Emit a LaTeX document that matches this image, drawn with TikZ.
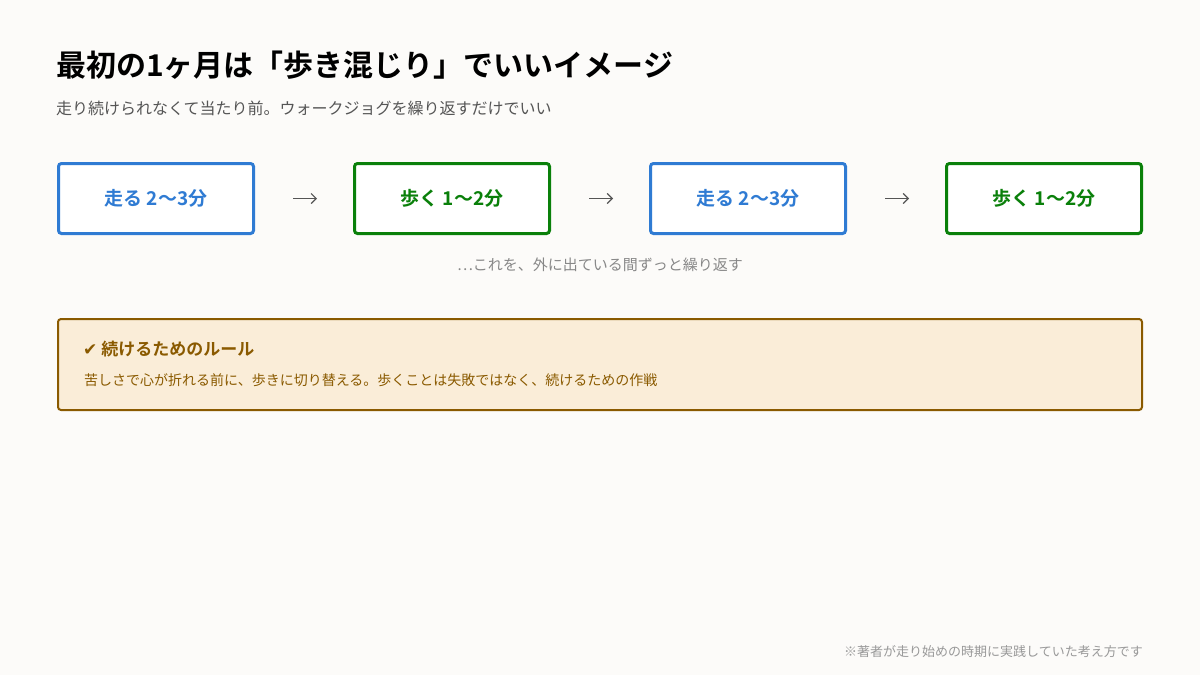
\documentclass[tikz,border=0pt]{standalone}
\usepackage{fontspec}
\setmainfont{Noto Sans CJK JP}[BoldFont={Noto Sans CJK JP Bold}]
\newfontfamily\symfont{DejaVu Sans}
\usetikzlibrary{arrows.meta}
\definecolor{bgc}{HTML}{FCFBF9}
\definecolor{runblue}{HTML}{2F7BD3}
\definecolor{walkgreen}{HTML}{0A800A}
\definecolor{rulebrown}{HTML}{8A5A00}
\definecolor{rulefill}{HTML}{FAEDD8}
\definecolor{subgray}{HTML}{555555}
\definecolor{capgray}{HTML}{888888}
\definecolor{footgray}{HTML}{999999}
\tikzset{
  stepbox/.style={draw, line width=3pt, rounded corners=3pt, fill=white,
    minimum width=195pt, minimum height=70pt, inner sep=0pt,
    font=\fontsize{19pt}{21pt}\selectfont\bfseries},
  runbox/.style={stepbox, draw=runblue, text=runblue},
  walkbox/.style={stepbox, draw=walkgreen, text=walkgreen},
  flow/.style={draw=subgray, line width=1.2pt, -{Straight Barb[length=5pt,width=10pt]}},
  txt/.style={inner sep=0pt, anchor=west}
}
\begin{document}
\begin{tikzpicture}[x=1pt,y=-1pt]
\fill[bgc] (0,0) rectangle (1200,675);
\useasboundingbox (0,0) rectangle (1200,675);

\node[txt, font=\fontsize{30pt}{33pt}\selectfont\bfseries, text=black] (title) at (56,65) {最初の1ヶ月は「歩き混じり」でいいイメージ};
\node[txt, font=\fontsize{16pt}{18pt}\selectfont, text=subgray] (sub) at (56,108) {走り続けられなくて当たり前。ウォークジョグを繰り返すだけでいい};

\node[runbox] (b1) at (156,198.5) {走る 2〜3分};
\node[walkbox] (b2) at (452,198.5) {歩く 1〜2分};
\node[runbox] (b3) at (748,198.5) {走る 2〜3分};
\node[walkbox] (b4) at (1044,198.5) {歩く 1〜2分};

\draw[flow] ([xshift=38pt]b1.east) -- ([xshift=-36pt]b2.west);
\draw[flow] ([xshift=38pt]b2.east) -- ([xshift=-36pt]b3.west);
\draw[flow] ([xshift=38pt]b3.east) -- ([xshift=-36pt]b4.west);

\node[inner sep=0pt, font=\fontsize{15pt}{17pt}\selectfont, text=capgray] (cap) at (600,265) {…これを、外に出ている間ずっと繰り返す};

\node[draw=rulebrown, line width=2pt, fill=rulefill, rounded corners=3pt,
  minimum width=1084pt, minimum height=91pt, inner sep=0pt] (rule) at (600,364.5) {};
\node[txt, font=\fontsize{17pt}{19pt}\selectfont\bfseries, text=rulebrown] (ruletitle) at (83,349.5) {{\symfont\bfseries ✔} 続けるためのルール};
\node[txt, font=\fontsize{14pt}{16pt}\selectfont, text=rulebrown] (rulebody) at (84,380) {苦しさで心が折れる前に、歩きに切り替える。歩くことは失敗ではなく、続けるための作戦};

\node[inner sep=0pt, anchor=east, font=\fontsize{13pt}{15pt}\selectfont, text=footgray] (foot) at (1143,652) {※著者が走り始めの時期に実践していた考え方です};
\end{tikzpicture}
\end{document}
